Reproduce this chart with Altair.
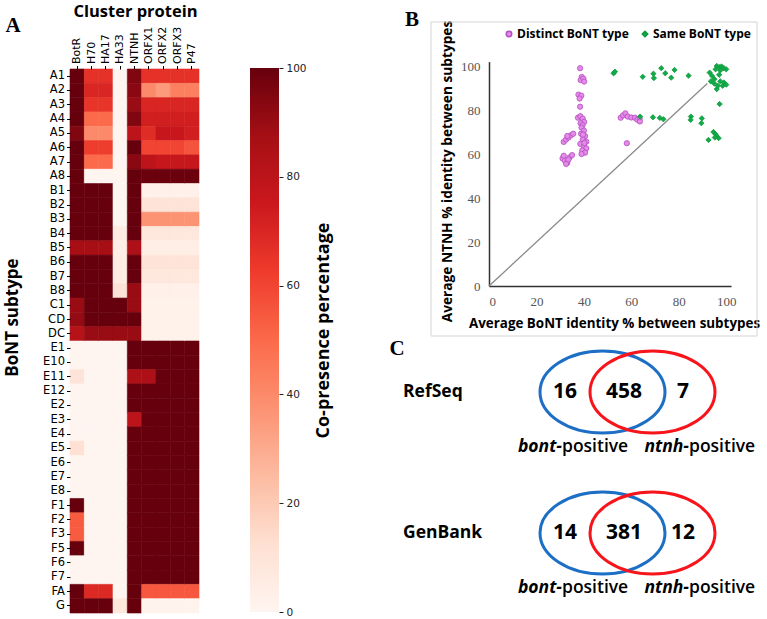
import altair as alt
import pandas as pd

# ---------------- Panel A: co-presence heatmap ----------------
subtypes = ["A1", "A2", "A3", "A4", "A5", "A6", "A7", "A8",
            "B1", "B2", "B3", "B4", "B5", "B6", "B7", "B8",
            "C1", "CD", "DC",
            "E1", "E10", "E11", "E12", "E2", "E3", "E4", "E5", "E6", "E7", "E8",
            "F1", "F2", "F3", "F5", "F6", "F7", "FA", "G"]
proteins = ["BotR", "H70", "HA17", "HA33", "NTNH", "ORFX1", "ORFX2", "ORFX3", "P47"]

botr  = [100, 100, 100, 100, 95, 100, 100, 100, 100, 100, 100, 100, 87, 100, 100, 100, 90, 91, 82, 0, 0, 10, 0, 0, 0, 0, 12, 0, 0, 0, 100, 54, 54, 100, 0, 0, 100, 100]
h70   = [66, 70, 65, 50, 40, 62, 50, 0, 100, 100, 100, 100, 87, 100, 100, 100, 100, 100, 90, 0, 0, 0, 0, 0, 0, 0, 0, 0, 0, 0, 0, 0, 0, 0, 0, 0, 69, 100]
ha17  = [66, 70, 65, 50, 40, 62, 50, 0, 100, 100, 100, 100, 87, 100, 100, 100, 100, 100, 90, 0, 0, 0, 0, 0, 0, 0, 0, 0, 0, 0, 0, 0, 0, 0, 0, 0, 69, 100]
ha33  = [0, 0, 0, 0, 0, 0, 0, 0, 0, 0, 0, 6, 4, 5, 5, 10, 100, 100, 90, 0, 0, 0, 0, 0, 0, 0, 0, 0, 0, 0, 0, 0, 0, 0, 0, 0, 0, 8]
ntnh  = [95, 93, 90, 95, 80, 100, 93, 100, 100, 100, 100, 100, 85, 100, 100, 90, 90, 100, 90, 100, 100, 85, 100, 100, 80, 100, 100, 100, 100, 100, 100, 100, 100, 100, 100, 100, 100, 100]
orfx1 = [66, 40, 70, 73, 68, 60, 80, 99, 3, 10, 37, 8, 4, 10, 8, 3, 2, 2, 2, 100, 100, 85, 100, 100, 100, 100, 100, 100, 100, 100, 100, 100, 100, 100, 100, 100, 55, 1]
orfx2 = [66, 35, 70, 73, 76, 60, 77, 99, 3, 10, 37, 8, 4, 10, 8, 3, 2, 2, 2, 100, 100, 100, 100, 100, 100, 100, 100, 100, 100, 100, 100, 100, 100, 100, 100, 100, 55, 1]
orfx3 = [66, 43, 70, 73, 76, 60, 77, 99, 3, 10, 37, 8, 4, 10, 8, 3, 2, 2, 2, 100, 100, 100, 100, 100, 100, 100, 100, 100, 100, 100, 100, 100, 100, 100, 100, 100, 55, 1]
p47   = [66, 43, 70, 73, 73, 56, 77, 99, 3, 10, 37, 8, 4, 10, 8, 3, 2, 2, 2, 100, 100, 100, 100, 100, 100, 100, 100, 100, 100, 100, 100, 100, 100, 100, 100, 100, 55, 1]
columns = [botr, h70, ha17, ha33, ntnh, orfx1, orfx2, orfx3, p47]
cbar_ticks = [0, 20, 40, 60, 80, 100]
# matplotlib "Reds" colour map anchors
reds_stops = ["#fff5f0", "#fee0d2", "#fcbba1", "#fc9272", "#fb6a4a",
              "#ef3b2c", "#cb181d", "#a50f15", "#67000d"]
reds_positions = [0, 12.5, 25, 37.5, 50, 62.5, 75, 87.5, 100]

# ---------------- Panel B: scatter ----------------
groups = ["Distinct BoNT type", "Same BoNT type"]
distinct_x = [38.4, 39.1, 38.6, 39.8, 40.1, 37.7, 38.9, 38.2, 38.4, 37.5, 38.5, 39.5, 40.1, 38.6, 39.4,
              39.0, 40.0, 38.8, 40.5, 39.5, 41.0, 38.5, 40.0, 41.0, 39.3, 40.5, 39.0, 40.2, 39.6,
              31.5, 32.5, 33.5, 34.5, 35.5, 33.0, 31.0, 32.0, 33.0, 34.0, 35.0, 32.5, 31.5, 33.5,
              55.5, 56.5, 57.5, 58.5, 60.0, 61.5, 62.5, 63.5, 63.6, 58.1]
distinct_y = [99.0, 95.0, 93.6, 94.2, 92.9, 87.0, 86.5, 85.2, 81.5, 76.5, 77.2, 76.1, 74.6, 74.0, 73.1,
              72.0, 70.6, 69.2, 68.1, 66.6, 65.6, 64.6, 63.6, 62.6, 61.6, 60.6, 60.0, 65.0, 68.8,
              65.5, 66.6, 67.5, 68.5, 69.2, 68.2, 58.0, 57.0, 56.0, 58.5, 59.5, 55.5, 59.2, 57.5,
              76.5, 77.6, 78.5, 77.0, 76.6, 76.5, 75.6, 76.2, 74.8, 64.9]
same_x = [52.5, 53.1, 64.8, 69.3, 69.5, 72.6, 74.3, 76.8, 78.2, 84.1,
          96.0, 97.0, 98.0, 99.0, 100.0, 97.5, 95.5, 93.0, 94.0, 95.0, 93.5, 95.0, 96.5, 96.0,
          97.5, 99.0, 98.5, 100.0, 97.0, 97.2,
          63.7, 69.1, 72.0, 73.5, 85.1, 85.0, 89.7, 89.5, 92.5, 94.6, 95.5, 96.0, 96.8, 95.2]
same_y = [96.7, 97.4, 95.1, 96.5, 94.5, 99.0, 96.7, 94.7, 98.2, 95.6,
          100.0, 99.5, 99.8, 99.0, 98.5, 98.0, 98.5, 97.0, 95.5, 94.0, 93.0, 92.0, 91.0, 89.5,
          93.0, 92.5, 91.0, 91.5, 96.0, 82.7,
          77.0, 76.7, 76.4, 75.8, 77.0, 75.5, 76.2, 74.0, 66.4, 70.0, 69.0, 68.0, 67.2, 67.5]
diag_x = [0, 92]
diag_y = [0, 92]
axis_ticks = [0, 20, 40, 60, 80, 100]

# ---------------- Panel C: Venn counts ----------------
datasets = ["RefSeq", "GenBank"]
sets = ["bont", "ntnh"]
regions = ["bont only", "both", "ntnh only"]
bont_only = [16, 14]
both_sets = [458, 381]
ntnh_only = [7, 12]
set_italic = ["bont-", "ntnh-"]
set_plain = ["positive", "positive"]

# ---------------- tables ----------------
heat_df = pd.DataFrame([
    {"subtype": s, "protein": p, "value": col[i]}
    for p, col in zip(proteins, columns) for i, s in enumerate(subtypes)
])
cbar_df = pd.DataFrame({"lo": [0], "hi": [100]})
scatter_df = pd.concat([
    pd.DataFrame({"bont": distinct_x, "ntnh": distinct_y, "group": groups[0]}),
    pd.DataFrame({"bont": same_x, "ntnh": same_y, "group": groups[1]}),
], ignore_index=True)
diag_df = pd.DataFrame({"bont": diag_x, "ntnh": diag_y})
venn_sets_df = pd.DataFrame([{"dataset": d, "set": s} for d in datasets for s in sets])
venn_counts_df = pd.DataFrame(
    [{"dataset": d, "region": r, "count": c}
     for i, d in enumerate(datasets)
     for r, c in zip(regions, [bont_only[i], both_sets[i], ntnh_only[i]])])
venn_labels_df = pd.DataFrame(
    [{"dataset": d, "set": s, "ital": it, "plain": pl}
     for d in datasets for s, it, pl in zip(sets, set_italic, set_plain)])
dataset_df = pd.DataFrame({"dataset": datasets})

# ---------------- layout (pixels on the 767x619 canvas) ----------------
W, H = 767, 619
HM_X0, HM_X1, HM_Y0, HM_Y1 = 70, 199, 69, 613
CB_X0, CB_X1, CB_Y0, CB_Y1 = 250, 279, 68, 612
SC_X0, SC_X1, SC_Y0, SC_Y1 = 489, 731, 286, 61.6
TITLE_FONT = "Open Sans"

# ---- frame around panel B
frame = alt.Chart(cbar_df).mark_rect(fillOpacity=0, stroke="#d4d4d4", strokeWidth=1).encode(
    x=alt.value(431), x2=alt.value(757), y=alt.value(22), y2=alt.value(336))

# ---- heatmap
heat_scale = alt.Scale(domain=reds_positions, range=reds_stops, interpolate="rgb")
heat = alt.Chart(heat_df).mark_rect(strokeWidth=0.6).encode(
    x=alt.X("protein:N", sort=proteins,
            scale=alt.Scale(domain=proteins, range=[HM_X0, HM_X1], paddingInner=0, paddingOuter=0),
            axis=alt.Axis(orient="top", offset=-HM_Y0, title="Cluster protein", labelAngle=270,
                          labelFont="DejaVu Sans", labelFontSize=11, labelColor="black",
                          tickSize=3.5, tickColor="black", domain=False, labelPadding=2,
                          titleFont=TITLE_FONT, titleFontWeight="bold", titleFontSize=16.5,
                          titleColor="black", titleX=135, titleY=-58, titleBaseline="middle",
                          titleAlign="center")),
    y=alt.Y("subtype:N", sort=subtypes,
            scale=alt.Scale(domain=subtypes, range=[HM_Y0, HM_Y1], paddingInner=0, paddingOuter=0),
            axis=alt.Axis(orient="left", offset=-HM_X0, title="BoNT subtype",
                          labelFont="DejaVu Sans", labelFontSize=11.5, labelColor="black",
                          tickSize=3.5, tickColor="black", domain=False, labelPadding=2,
                          titleFont=TITLE_FONT, titleFontWeight="bold", titleFontSize=17,
                          titleColor="black", titleX=-58, titleY=317, titleAngle=270,
                          titleBaseline="middle", titleAlign="center")),
    color=alt.Color("value:Q", scale=heat_scale, legend=None),
    stroke=alt.Stroke("value:Q", scale=heat_scale, legend=None),
)

# ---- colour bar
grad = alt.Gradient(
    gradient="linear",
    stops=[alt.GradientStop(color=c, offset=p / 100) for c, p in zip(reds_stops, reds_positions)],
    x1=0, x2=0, y1=1, y2=0)
cbar = alt.Chart(cbar_df).mark_rect(fill=grad).encode(
    y=alt.Y("lo:Q", scale=alt.Scale(domain=[0, 100], range=[CB_Y1, CB_Y0], nice=False),
            axis=alt.Axis(orient="right", offset=CB_X1 - W, values=cbar_ticks, grid=False,
                          domain=False, tickSize=4, tickColor="#222", labelPadding=3,
                          labelFont="DejaVu Sans", labelFontSize=10.5, labelColor="#222",
                          title="Co-presence percentage", titleFont=TITLE_FONT,
                          titleFontWeight="bold", titleFontSize=18, titleColor="black",
                          titleAngle=270, titleX=323 - CB_X1, titleY=330,
                          titleBaseline="middle", titleAlign="center")),
    y2="hi:Q",
    x=alt.value(CB_X0), x2=alt.value(CB_X1),
)

# ---- scatter
xs = alt.Scale(domain=[0, 102], range=[SC_X0, SC_X1], nice=False, zero=False)
ys = alt.Scale(domain=[0, 102], range=[SC_Y0, SC_Y1], nice=False, zero=False)
diag = alt.Chart(diag_df).mark_line(color="#8a8a8a", strokeWidth=1.3).encode(
    x=alt.X("bont:Q", scale=xs, axis=None),
    y=alt.Y("ntnh:Q", scale=ys, axis=None),
)
leg = alt.Legend(orient="none", legendX=503, legendY=28, direction="horizontal", title=None,
                 labelFont=TITLE_FONT, labelFontWeight="bold", labelFontSize=12,
                 labelColor="black", symbolSize=30, columnPadding=10, labelOffset=2, padding=0)
pts = alt.Chart(scatter_df).mark_point(filled=True, opacity=1, strokeWidth=0.8, size=28).encode(
    x=alt.X("bont:Q", scale=xs,
            axis=alt.Axis(orient="bottom", offset=SC_Y0 - H, values=axis_ticks, grid=False,
                          ticks=False, domainColor="#333", domainWidth=1.5, labelPadding=9,
                          labelFont="Liberation Serif", labelFontSize=13, labelColor="#555",
                          title="Average BoNT identity % between subtypes", titleFont=TITLE_FONT,
                          titleFontWeight="bold", titleFontSize=13.4, titleColor="black",
                          titleX=614, titleY=37, titleBaseline="middle", titleAlign="center")),
    y=alt.Y("ntnh:Q", scale=ys,
            axis=alt.Axis(orient="left", offset=-SC_X0, values=axis_ticks, grid=False,
                          ticks=False, domainColor="#333", domainWidth=1.5, labelPadding=9,
                          labelFont="Liberation Serif", labelFontSize=13, labelColor="#555",
                          title="Average NTNH % identity between subtypes", titleFont=TITLE_FONT,
                          titleFontWeight="bold", titleFontSize=13.7, titleColor="black",
                          titleX=447 - SC_X0, titleY=171, titleAngle=270,
                          titleBaseline="middle", titleAlign="center")),
    color=alt.Color("group:N", scale=alt.Scale(domain=groups, range=["#e58ae6", "#13aa48"]), legend=leg),
    stroke=alt.Stroke("group:N", scale=alt.Scale(domain=groups, range=["#b24fc2", "#0b9a3e"]), legend=leg),
    shape=alt.Shape("group:N", scale=alt.Scale(domain=groups, range=["circle", "diamond"]), legend=leg),
)

# ---- Venn diagrams
ELLIPSE = ("M -1 0 C -1 -0.362 -0.552 -0.656 0 -0.656 C 0.552 -0.656 1 -0.362 1 0 "
           "C 1 0.362 0.552 0.656 0 0.656 C -0.552 0.656 -1 0.362 -1 0 Z")
vy = alt.Scale(domain=datasets, range=[392, 533], padding=0)
ell = alt.Chart(venn_sets_df).mark_point(shape=ELLIPSE, filled=False, size=15625, strokeWidth=3,
                                          opacity=1).encode(
    x=alt.X("set:N", scale=alt.Scale(domain=sets, range=[602.5, 652.5], padding=0), axis=None),
    y=alt.Y("dataset:N", scale=vy, axis=None),
    color=alt.Color("set:N", scale=alt.Scale(domain=sets, range=["#1c6fc4", "#f7151b"]), legend=None),
)
counts = alt.Chart(venn_counts_df).mark_text(font=TITLE_FONT, fontWeight="bold", fontSize=21,
                                             color="black", baseline="middle").encode(
    x=alt.X("region:N", scale=alt.Scale(domain=regions, range=[565, 683], padding=0), axis=None),
    y=alt.Y("dataset:N", scale=vy, axis=None),
    text="count:Q",
)
dlabels = alt.Chart(dataset_df).mark_text(font=TITLE_FONT, fontWeight="bold", fontSize=17.5,
                                          color="black", align="left", baseline="middle").encode(
    x=alt.value(403),
    y=alt.Y("dataset:N", scale=vy, axis=None),
    text="dataset:N",
)
ly = alt.Scale(domain=datasets, range=[447, 588], padding=0)
lx = alt.Scale(domain=sets, range=[562, 689], padding=0)
lab_it = alt.Chart(venn_labels_df).mark_text(font=TITLE_FONT, fontWeight="bold", fontStyle="italic",
                                             fontSize=17.5, color="black", align="right",
                                             baseline="middle").encode(
    x=alt.X("set:N", scale=lx, axis=None), y=alt.Y("dataset:N", scale=ly, axis=None), text="ital:N")
lab_pl = alt.Chart(venn_labels_df).mark_text(font=TITLE_FONT, fontWeight=600, fontSize=17.5,
                                             color="black", align="left", baseline="middle").encode(
    x=alt.X("set:N", scale=lx, axis=None), y=alt.Y("dataset:N", scale=ly, axis=None), text="plain:N")

# ---- panel letters
def letter(ch, px, py):
    return alt.Chart(cbar_df).mark_text(font="Liberation Serif", fontWeight="bold", fontSize=21,
                                        color="black", baseline="middle", align="center").encode(
        x=alt.value(px), y=alt.value(py), text=alt.value(ch))

chart = alt.layer(
    frame, heat, cbar, diag, pts, ell, counts, dlabels, lab_it, lab_pl,
    letter("A", 13, 26), letter("B", 412, 20), letter("C", 397, 349),
).resolve_scale(
    x="independent", y="independent", color="independent", stroke="independent", shape="independent"
).resolve_axis(
    x="independent", y="independent"
).resolve_legend(
    color="independent", stroke="independent", shape="independent"
).properties(
    width=W, height=H, padding=0, autosize=alt.AutoSizeParams(type="none"), background="white"
).configure_view(stroke=None).configure_axis(grid=False)

chart.save("out.html", embed_options={"renderer": "svg", "actions": False})
